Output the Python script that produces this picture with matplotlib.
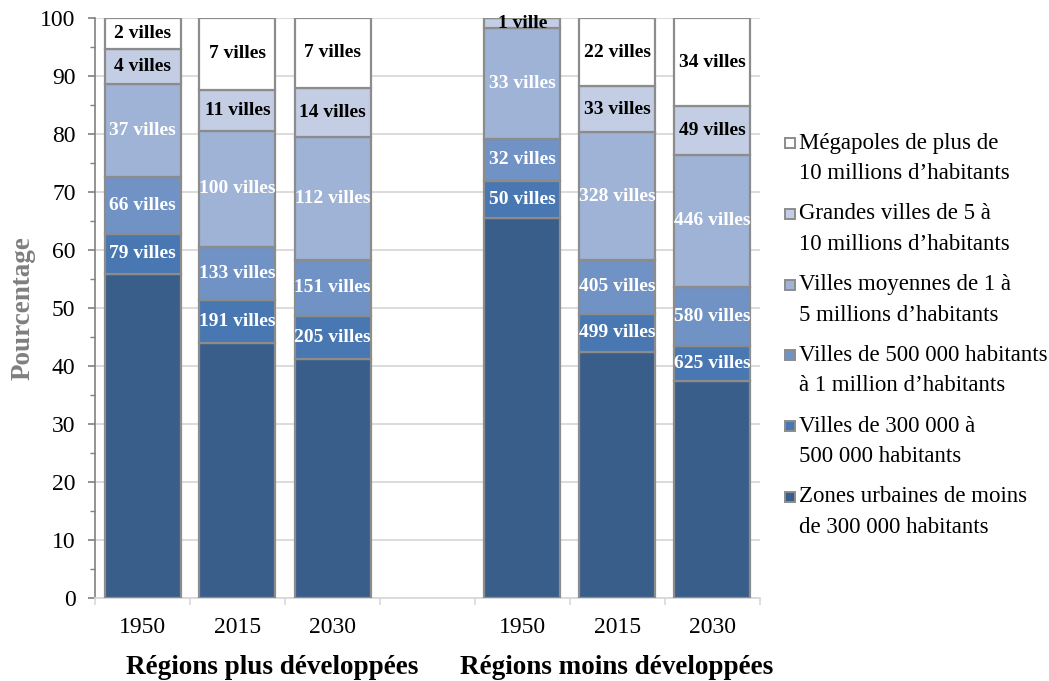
import matplotlib
matplotlib.use("Agg")
import matplotlib.pyplot as plt
from matplotlib.patches import Rectangle
import numpy as np

plt.rcParams['font.family'] = ['Liberation Serif', 'DejaVu Serif']

years = ["1950", "2015", "2030", "1950", "2015", "2030"]
groups = ["Régions plus développées", "Régions moins développées"]

series_names = [
    ["Zones urbaines de moins", "de 300 000 habitants"],
    ["Villes de 300 000 à", "500 000 habitants"],
    ["Villes de 500 000 habitants", "à 1 million d’habitants"],
    ["Villes moyennes de 1 à", "5 millions d’habitants"],
    ["Grandes villes de 5 à", "10 millions d’habitants"],
    ["Mégapoles de plus de", "10 millions d’habitants"],
]

# Share (%) of urban population per city-size class, bottom to top
small_towns = [55.9, 44.0, 41.2, 65.6, 42.5, 37.5]
cities_300k = [6.9, 7.3, 7.5, 6.3, 6.5, 5.9]
cities_500k = [9.8, 9.2, 9.6, 7.3, 9.3, 10.3]
cities_1m = [16.0, 20.1, 21.1, 19.0, 22.0, 22.7]
cities_5m = [6.0, 7.0, 8.6, 1.8, 7.9, 8.4]
megacities = [5.4, 12.4, 12.0, 0.0, 11.8, 15.2]

# Number of cities in each class
count_300k = ["79 villes", "191 villes", "205 villes", "50 villes", "499 villes", "625 villes"]
count_500k = ["66 villes", "133 villes", "151 villes", "32 villes", "405 villes", "580 villes"]
count_1m = ["37 villes", "100 villes", "112 villes", "33 villes", "328 villes", "446 villes"]
count_5m = ["4 villes", "11 villes", "14 villes", "1 ville", "33 villes", "49 villes"]
count_mega = ["2 villes", "7 villes", "7 villes", "", "22 villes", "34 villes"]

series = [small_towns, cities_300k, cities_500k, cities_1m, cities_5m, megacities]
labels = [None, count_300k, count_500k, count_1m, count_5m, count_mega]
colors = ["#3A5E8A", "#4877B2", "#7092C4", "#9FB3D6", "#C3CDE3", "#FFFFFF"]
text_colors = [None, "white", "white", "white", "black", "black"]
edge = "#8C8C8C"

positions = [0, 1, 2, 4, 5, 6]

W, H = 1049, 681
fig = plt.figure(figsize=(W / 100, H / 100), dpi=100)
ax = fig.add_axes([95 / W, 1 - 598 / H, (760 - 95) / W, (598 - 18) / H])

bottom = np.zeros(len(positions))
for vals, col, lab, tcol in zip(series, colors, labels, text_colors):
    vals = np.array(vals)
    ax.bar(positions, vals, bottom=bottom, width=0.8, color=col,
           edgecolor=edge, linewidth=1.6, zorder=3)
    if lab is not None:
        for x, b, v, t in zip(positions, bottom, vals, lab):
            if t:
                ax.text(x, b + v / 2, t, ha="center", va="center",
                        color=tcol, fontsize=14, fontweight="bold", zorder=4)
    bottom += vals

ax.set_xlim(-0.5, 6.5)
ax.set_ylim(0, 100)

ax.set_yticks(np.arange(0, 101, 10))
ax.set_yticks(np.arange(5, 100, 10), minor=True)
ax.yaxis.grid(True, which="major", color="#D9D9D9", linewidth=1.3, zorder=0)
ax.tick_params(axis="y", which="major", length=5, width=1.2, color="#808080",
               labelsize=17, pad=9)
ax.tick_params(axis="y", which="minor", length=3.6, width=1.0, color="#808080")

ax.set_xticks(np.arange(-0.5, 7.0, 1.0))
ax.set_xticklabels([])
ax.set_xticks(positions, minor=True)
ax.set_xticklabels(years, minor=True)
ax.tick_params(axis="x", which="major", length=5, width=1.2, color="#D9D9D9")
ax.tick_params(axis="x", which="minor", length=0, labelsize=17, pad=14)

for side in ["top", "right"]:
    ax.spines[side].set_visible(False)
ax.spines["left"].set_color("#808080")
ax.spines["left"].set_linewidth(1.2)
ax.spines["bottom"].set_color("#D9D9D9")
ax.spines["bottom"].set_linewidth(1.3)

fig.text(23 / W, 1 - 308 / H, "Pourcentage", rotation=90, ha="center",
         va="center", fontsize=19.5, fontweight="bold", color="#7F7F7F")

fig.text(272 / W, 1 - 667 / H, groups[0], ha="center", va="center",
         fontsize=19.5, fontweight="bold")
fig.text(617 / W, 1 - 667 / H, groups[1], ha="center", va="center",
         fontsize=19.5, fontweight="bold")

# Legend: top entry is the largest class, square aligned with the first line
for i, (col, name) in enumerate(zip(colors[::-1], series_names[::-1])):
    y0 = 143 + 70.8 * i
    fig.patches.append(Rectangle((785 / W, 1 - (y0 + 5) / H), 10 / W, 10 / H,
                                 transform=fig.transFigure, facecolor=col,
                                 edgecolor=edge, linewidth=1.4))
    fig.text(799 / W, 1 - y0 / H, name[0], ha="left", va="center",
             fontsize=16.5)
    fig.text(799 / W, 1 - (y0 + 30.5) / H, name[1], ha="left", va="center",
             fontsize=16.5)

fig.savefig("out.png", dpi=100)
